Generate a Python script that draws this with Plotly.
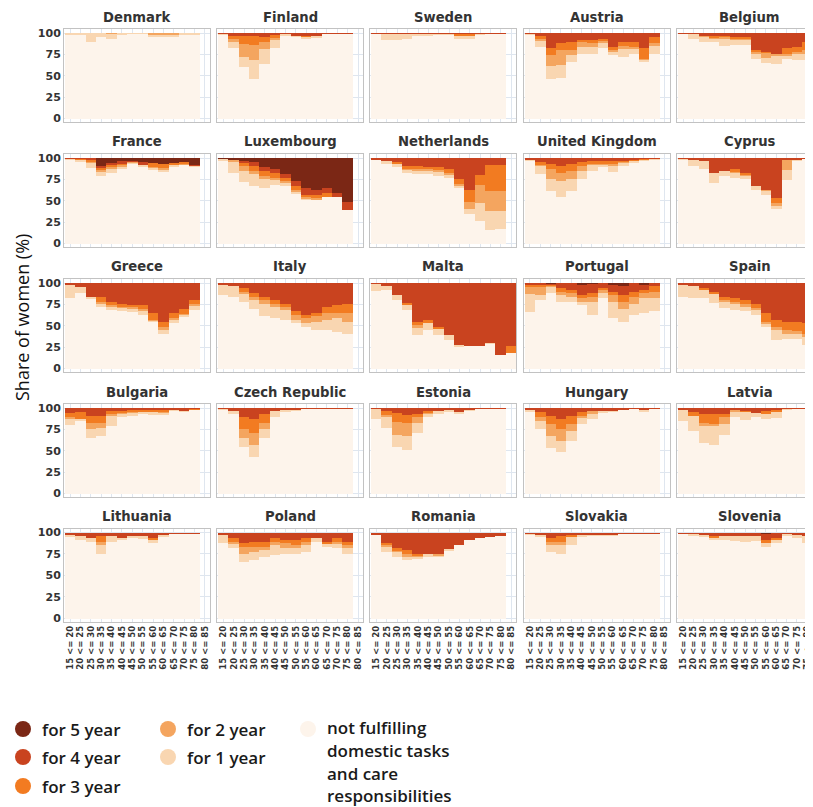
import plotly.graph_objects as go

AGE_GROUPS = ["15 <= 20", "20 <= 25", "25 <= 30", "30 <= 35", "35 <= 40", "40 <= 45", "45 <= 50",
              "50 <= 55", "55 <= 60", "60 <= 65", "65 <= 70", "70 <= 75", "75 <= 80", "80 <= 85"]
CATEGORIES = ["for 5 year", "for 4 year", "for 3 year", "for 2 year", "for 1 year"]
COLORS = ["#7b2715", "#c9431f", "#f27b21", "#f4a55f", "#f9d6b1"]
REMAINDER_LINES = ["not fulfilling", "domestic tasks", "and care", "responsibilities"]
REMAINDER_COLOR = "#fdf4eb"

# share of women (%) per age group; rows: for 5 year, for 4 year, for 3 year, for 2 year, for 1 year
denmark = [
    [0, 0, 0, 0, 0, 0, 0, 0, 0, 0, 0, 0, 0],
    [0, 0, 0, 0, 0, 0, 0, 0, 0, 0, 0, 0, 0],
    [0, 0, 0, 0, 0, 0, 0, 0, 0, 0, 0, 0, 0],
    [0, 0, 0, 0, 1, 0, 0, 0, 2, 2, 2, 0, 0],
    [2, 2, 11, 5, 6, 2, 1, 1, 2, 2, 2, 2, 2]]
finland = [
    [0, 0, 0, 0, 0, 0, 0, 0, 0, 0, 0, 0, 0],
    [1, 3, 4, 4, 5, 2, 1, 3, 3, 3, 1, 1, 1],
    [0, 4, 9, 10, 5, 4, 0, 0, 1, 0, 0, 0, 0],
    [0, 3, 15, 17, 9, 2, 0, 0, 0, 0, 0, 0, 0],
    [1, 8, 12, 23, 17, 10, 3, 1, 3, 3, 0, 0, 0]]
sweden = [
    [0, 0, 0, 0, 0, 0, 0, 0, 0, 0, 0, 0, 0],
    [1, 1, 1, 1, 1, 1, 1, 1, 1, 1, 1, 1, 1],
    [0, 0, 0, 0, 0, 0, 0, 0, 3, 3, 0, 0, 0],
    [0, 0, 0, 0, 0, 0, 0, 0, 0, 0, 0, 0, 0],
    [0, 7, 7, 6, 3, 3, 1, 1, 2, 2, 1, 0, 0]]
austria = [
    [0, 0, 0, 0, 0, 0, 0, 0, 0, 0, 0, 0, 0],
    [1, 4, 18, 12, 11, 8, 8, 7, 16, 10, 11, 18, 5],
    [0, 3, 8, 8, 9, 3, 4, 2, 4, 5, 5, 12, 7],
    [0, 2, 13, 17, 6, 5, 4, 3, 2, 4, 2, 1, 3],
    [1, 7, 15, 15, 8, 9, 8, 6, 4, 9, 6, 2, 9]]
belgium = [
    [0, 0, 0, 0, 0, 0, 0, 0, 0, 0, 0, 0, 0],
    [1, 1, 3, 4, 3, 5, 5, 20, 22, 24, 18, 16, 10],
    [0, 0, 0, 1, 1, 1, 1, 2, 1, 0, 6, 6, 10],
    [0, 0, 1, 1, 2, 2, 2, 2, 6, 3, 2, 2, 4],
    [0, 6, 7, 5, 9, 6, 6, 6, 6, 9, 4, 8, 8]]
france = [
    [0, 0, 0, 9, 6, 4, 3, 5, 6, 7, 6, 5, 8],
    [1, 1, 2, 2, 2, 2, 1, 2, 0, 0, 0, 0, 1],
    [0, 1, 2, 2, 2, 2, 0, 0, 4, 5, 1, 1, 0],
    [0, 0, 1, 3, 3, 2, 1, 1, 1, 2, 1, 1, 0],
    [1, 2, 7, 5, 5, 3, 1, 2, 2, 2, 2, 1, 1]]
luxembourg = [
    [1, 2, 3, 5, 11, 13, 19, 27, 35, 37, 35, 41, 51],
    [0, 0, 3, 4, 4, 4, 4, 6, 8, 6, 6, 4, 10],
    [0, 0, 3, 6, 6, 6, 4, 4, 2, 4, 4, 0, 0],
    [0, 3, 6, 4, 4, 3, 2, 2, 2, 1, 0, 0, 0],
    [2, 12, 13, 14, 10, 5, 4, 2, 2, 1, 0, 0, 0]]
netherlands = [
    [0, 0, 0, 0, 0, 0, 0, 0, 0, 0, 0, 0, 0],
    [2, 3, 5, 9, 9, 10, 11, 13, 25, 37, 20, 8, 8],
    [0, 0, 1, 4, 4, 3, 3, 4, 5, 14, 11, 31, 31],
    [0, 0, 0, 1, 2, 2, 2, 2, 2, 8, 22, 23, 23],
    [0, 4, 5, 3, 4, 4, 5, 4, 3, 6, 21, 22, 21]]
united_kingdom = [
    [0, 0, 0, 0, 0, 0, 0, 0, 0, 0, 0, 0, 0],
    [2, 5, 7, 9, 7, 5, 4, 4, 3, 3, 2, 1, 1],
    [0, 2, 6, 8, 8, 4, 2, 2, 4, 1, 1, 1, 0],
    [0, 2, 12, 10, 10, 6, 2, 1, 2, 1, 0, 0, 0],
    [1, 10, 14, 18, 14, 10, 7, 3, 7, 4, 2, 1, 1]]
cyprus = [
    [0, 0, 0, 0, 0, 0, 0, 0, 0, 0, 0, 0, 0],
    [1, 2, 3, 17, 15, 13, 17, 33, 37, 47, 2, 2, 1],
    [0, 0, 0, 0, 0, 3, 2, 0, 0, 6, 0, 0, 0],
    [0, 0, 0, 0, 0, 1, 1, 0, 1, 3, 12, 0, 0],
    [1, 7, 10, 12, 6, 6, 5, 4, 5, 4, 12, 1, 0]]
greece = [
    [0, 0, 0, 0, 0, 0, 0, 0, 0, 0, 0, 0, 0],
    [2, 5, 16, 16, 22, 25, 26, 26, 35, 45, 35, 30, 20],
    [0, 0, 0, 6, 4, 2, 2, 4, 8, 6, 6, 6, 5],
    [0, 0, 0, 2, 2, 2, 2, 2, 1, 4, 2, 1, 1],
    [15, 7, 2, 4, 4, 4, 4, 5, 1, 4, 4, 2, 5]]
italy = [
    [0, 0, 0, 0, 0, 0, 0, 0, 0, 0, 0, 0, 0],
    [2, 4, 6, 12, 16, 20, 24, 33, 37, 35, 28, 26, 25],
    [0, 0, 4, 4, 4, 4, 4, 4, 4, 4, 7, 9, 10],
    [0, 0, 2, 4, 4, 4, 4, 6, 6, 6, 8, 6, 10],
    [12, 12, 10, 10, 15, 13, 11, 4, 4, 10, 12, 16, 14]]
malta = [
    [0, 0, 0, 0, 0, 0, 0, 0, 0, 0, 0, 0, 0, 0],
    [1, 3, 14, 23, 45, 43, 51, 61, 72, 74, 74, 70, 84, 74],
    [0, 0, 0, 2, 4, 4, 3, 0, 0, 0, 0, 0, 0, 8],
    [0, 0, 0, 0, 4, 0, 0, 0, 0, 0, 0, 0, 0, 0],
    [8, 5, 6, 6, 8, 8, 7, 6, 2, 0, 0, 1, 0, 0]]
portugal = [
    [0, 0, 1, 0, 0, 2, 1, 0, 2, 4, 0, 2, 0],
    [2, 2, 1, 6, 8, 12, 11, 6, 8, 10, 10, 6, 4],
    [2, 2, 1, 4, 4, 4, 4, 2, 4, 8, 6, 4, 6],
    [9, 10, 1, 4, 4, 4, 6, 4, 8, 8, 8, 6, 8],
    [21, 6, 8, 8, 6, 4, 15, 6, 19, 15, 13, 17, 15]]
spain = [
    [0, 0, 0, 0, 0, 0, 0, 0, 0, 0, 0, 0, 0],
    [2, 3, 6, 10, 16, 18, 20, 25, 35, 43, 45, 45, 47],
    [0, 0, 2, 2, 4, 4, 4, 4, 10, 8, 10, 11, 12],
    [0, 0, 0, 0, 2, 2, 4, 2, 2, 4, 4, 4, 4],
    [14, 14, 10, 11, 7, 7, 5, 6, 4, 12, 6, 5, 10]]
bulgaria = [
    [0, 0, 0, 0, 0, 0, 0, 0, 0, 0, 0, 0, 0],
    [6, 5, 9, 9, 4, 3, 2, 2, 2, 2, 2, 3, 1],
    [4, 8, 8, 8, 3, 2, 2, 2, 3, 2, 0, 0, 1],
    [2, 0, 8, 6, 2, 1, 1, 0, 0, 1, 0, 0, 0],
    [8, 2, 10, 10, 12, 5, 4, 2, 2, 2, 1, 1, 0]]
czech_republic = [
    [0, 0, 0, 0, 0, 0, 0, 0, 0, 0, 0, 0, 0],
    [1, 4, 11, 13, 7, 4, 2, 2, 1, 1, 1, 1, 1],
    [0, 0, 14, 16, 10, 0, 0, 0, 0, 0, 0, 0, 0],
    [0, 0, 10, 14, 8, 0, 0, 0, 0, 0, 0, 0, 0],
    [1, 3, 10, 14, 10, 7, 2, 1, 0, 0, 0, 0, 0]]
estonia = [
    [0, 0, 0, 0, 0, 0, 0, 0, 0, 0, 0, 0, 0],
    [1, 4, 6, 8, 7, 4, 4, 2, 5, 2, 1, 1, 1],
    [0, 4, 10, 10, 4, 1, 0, 0, 0, 0, 0, 0, 0],
    [0, 3, 16, 15, 6, 1, 0, 0, 0, 0, 0, 0, 0],
    [12, 12, 13, 16, 12, 5, 3, 2, 1, 1, 0, 0, 0]]
hungary = [
    [0, 0, 0, 0, 0, 0, 0, 0, 0, 0, 0, 0, 0],
    [2, 5, 9, 13, 9, 5, 4, 3, 3, 2, 1, 2, 1],
    [0, 6, 10, 12, 10, 4, 0, 0, 0, 0, 0, 0, 0],
    [0, 4, 14, 14, 8, 2, 2, 0, 0, 0, 0, 0, 0],
    [2, 10, 14, 12, 12, 8, 7, 2, 1, 0, 0, 2, 0]]
latvia = [
    [0, 0, 0, 0, 0, 0, 0, 0, 0, 0, 0, 0, 0],
    [2, 5, 7, 7, 7, 2, 3, 6, 4, 2, 1, 1, 1],
    [0, 4, 10, 12, 4, 0, 1, 0, 2, 2, 0, 0, 0],
    [0, 0, 4, 2, 8, 2, 0, 0, 0, 0, 0, 0, 0],
    [13, 18, 20, 22, 12, 6, 10, 5, 7, 8, 1, 0, 0]]
lithuania = [
    [0, 0, 0, 0, 0, 0, 0, 0, 0, 0, 0, 0, 0],
    [2, 3, 6, 4, 4, 6, 3, 4, 6, 2, 1, 1, 1],
    [0, 0, 0, 6, 0, 0, 0, 0, 2, 0, 0, 0, 0],
    [0, 0, 0, 4, 0, 0, 0, 0, 0, 0, 0, 0, 0],
    [2, 5, 5, 10, 6, 2, 3, 3, 4, 2, 0, 0, 0]]
poland = [
    [0, 0, 0, 0, 0, 0, 0, 0, 0, 0, 0, 0, 0],
    [2, 6, 12, 10, 10, 6, 8, 8, 6, 6, 10, 6, 10],
    [0, 4, 4, 6, 6, 4, 4, 6, 4, 0, 2, 4, 4],
    [0, 2, 8, 6, 4, 4, 6, 4, 4, 0, 0, 2, 4],
    [10, 6, 10, 10, 8, 12, 6, 6, 8, 4, 4, 6, 6]]
romania = [
    [0, 0, 0, 0, 0, 0, 0, 0, 0, 0, 0, 0, 0],
    [2, 12, 18, 20, 24, 24, 24, 19, 14, 8, 6, 5, 4],
    [0, 2, 2, 4, 2, 0, 0, 0, 0, 0, 0, 0, 0],
    [0, 2, 2, 4, 2, 0, 2, 0, 0, 0, 0, 0, 0],
    [0, 6, 6, 4, 2, 4, 2, 2, 0, 0, 0, 0, 0]]
slovakia = [
    [0, 0, 0, 0, 0, 0, 0, 0, 0, 0, 0, 0, 0],
    [1, 2, 6, 4, 2, 2, 2, 2, 2, 1, 1, 1, 1],
    [0, 0, 4, 6, 2, 0, 0, 0, 0, 0, 0, 0, 0],
    [0, 0, 4, 4, 0, 0, 0, 0, 0, 0, 0, 0, 0],
    [1, 3, 8, 10, 10, 2, 1, 1, 1, 0, 0, 0, 0]]
slovenia = [
    [0, 0, 0, 0, 0, 0, 0, 0, 1, 0, 0, 0, 0],
    [1, 1, 2, 4, 4, 4, 4, 4, 7, 6, 1, 2, 3],
    [0, 0, 0, 1, 0, 0, 0, 0, 4, 2, 0, 0, 0],
    [0, 0, 0, 0, 0, 0, 0, 0, 0, 0, 0, 0, 0],
    [0, 2, 3, 3, 4, 5, 7, 5, 4, 4, 2, 4, 9]]

COUNTRIES = [
    ("Denmark", denmark), ("Finland", finland), ("Sweden", sweden), ("Austria", austria), ("Belgium", belgium),
    ("France", france), ("Luxembourg", luxembourg), ("Netherlands", netherlands),
    ("United Kingdom", united_kingdom), ("Cyprus", cyprus),
    ("Greece", greece), ("Italy", italy), ("Malta", malta), ("Portugal", portugal), ("Spain", spain),
    ("Bulgaria", bulgaria), ("Czech Republic", czech_republic), ("Estonia", estonia), ("Hungary", hungary),
    ("Latvia", latvia),
    ("Lithuania", lithuania), ("Poland", poland), ("Romania", romania), ("Slovakia", slovakia),
    ("Slovenia", slovenia)]
Y_TICKS = [0, 25, 50, 75, 100]

W, H = 813, 807
OFF = 8  # page body margin: screen position = figure position + OFF


def px(x):
    return (x - OFF) / W


def py(y):
    return 1 - (y - OFF) / H


COL_LEFT = [64, 217.2, 370.4, 523.6, 676.8]   # screen pixels
ROW_TOP = [29, 154, 279, 404, 528.5]
PW, PH = 146, 93
X0 = -0.6
UNIT = PW / 14.1
TITLE_FONT = dict(family="DejaVu Sans", size=13.2, color="#333333", weight="bold")

fig = go.Figure()
layout = {}
annotations = []
for idx, (name, rows) in enumerate(COUNTRIES):
    r, c = divmod(idx, 5)
    k = idx + 1
    xa = "x" if k == 1 else f"x{k}"
    ya = "y" if k == 1 else f"y{k}"
    n = len(rows[0])
    xs = list(range(n))
    remainder = [100 - sum(rows[j][i] for j in range(5)) for i in range(n)]
    fig.add_bar(x=xs, y=remainder, xaxis=xa, yaxis=ya, marker=dict(color=REMAINDER_COLOR, line=dict(width=0)),
                showlegend=False, hoverinfo="skip")
    for j in (4, 3, 2, 1, 0):
        fig.add_bar(x=xs, y=rows[j], xaxis=xa, yaxis=ya, marker=dict(color=COLORS[j], line=dict(width=0)),
                    showlegend=False, hoverinfo="skip", name=CATEGORIES[j])
    left = COL_LEFT[c]
    right = min(left + PW, W)
    top = ROW_TOP[r]
    layout["xaxis" if k == 1 else f"xaxis{k}"] = dict(
        domain=[px(left), min(px(right), 1.0)], range=[X0, X0 + (right - left) / UNIT], anchor=ya,
        showline=True, mirror=True, linecolor="#c2c2c2", linewidth=1,
        showgrid=True, gridcolor="#dfe6ef", gridwidth=1, zeroline=False,
        tickmode="array", tickvals=list(range(len(AGE_GROUPS))), ticktext=AGE_GROUPS,
        showticklabels=(r == 4), tickangle=-90, ticks="",
        tickfont=dict(family="DejaVu Sans", size=8.5, color="#333333", weight="bold"))
    layout["yaxis" if k == 1 else f"yaxis{k}"] = dict(
        domain=[py(top + PH), py(top)], range=[-4, 104.7], anchor=xa,
        showline=True, mirror=True, linecolor="#c2c2c2", linewidth=1,
        showgrid=True, gridcolor="#dfe6ef", gridwidth=1, zeroline=False,
        tickmode="array", tickvals=Y_TICKS, showticklabels=(c == 0), ticks="",
        tickfont=dict(family="DejaVu Sans", size=11, color="#333333", weight="bold"))
    annotations.append(dict(text=name, x=px(left + PW / 2), y=py(top - 12), xref="paper", yref="paper",
                            xanchor="center", yanchor="middle", showarrow=False, font=TITLE_FONT))

annotations.append(dict(text="Share of women (%)", x=px(8), y=py(318), xref="paper", yref="paper",
                        textangle=-90, xanchor="left", yanchor="middle", showarrow=False,
                        font=dict(family="Open Sans", size=18, color="#111111")))

LEGEND_FONT = dict(family="Open Sans", size=17, color="#1a1a1a", weight=600)
legend_pos = [(23, 729), (23, 757), (23, 786), (168, 729), (168, 757)]
shapes = []
RAD = 8
for (cx, cy), name, color in zip(legend_pos, CATEGORIES, COLORS):
    shapes.append(dict(type="circle", xref="paper", yref="paper", x0=px(cx - RAD), x1=px(cx + RAD),
                       y0=py(cy + RAD), y1=py(cy - RAD), fillcolor=color, line=dict(width=0)))
    annotations.append(dict(text=name, x=px(cx + 17), y=py(cy), xref="paper", yref="paper",
                            xanchor="left", yanchor="middle", showarrow=False, font=LEGEND_FONT))
cx, cy = 308, 729
shapes.append(dict(type="circle", xref="paper", yref="paper", x0=px(cx - RAD), x1=px(cx + RAD),
                   y0=py(cy + RAD), y1=py(cy - RAD), fillcolor=REMAINDER_COLOR, line=dict(width=0)))
for line, ly in zip(REMAINDER_LINES, [727, 750, 773, 795]):
    annotations.append(dict(text=line, x=px(cx + 17), y=py(ly), xref="paper", yref="paper",
                            xanchor="left", yanchor="middle", showarrow=False, font=LEGEND_FONT))

fig.update_layout(
    width=W, height=H, margin=dict(l=0, r=0, t=0, b=0, autoexpand=False),
    paper_bgcolor="white", plot_bgcolor="white", barmode="stack", bargap=0,
    showlegend=False, annotations=annotations, shapes=shapes, **layout)

fig.write_html("out.html")
